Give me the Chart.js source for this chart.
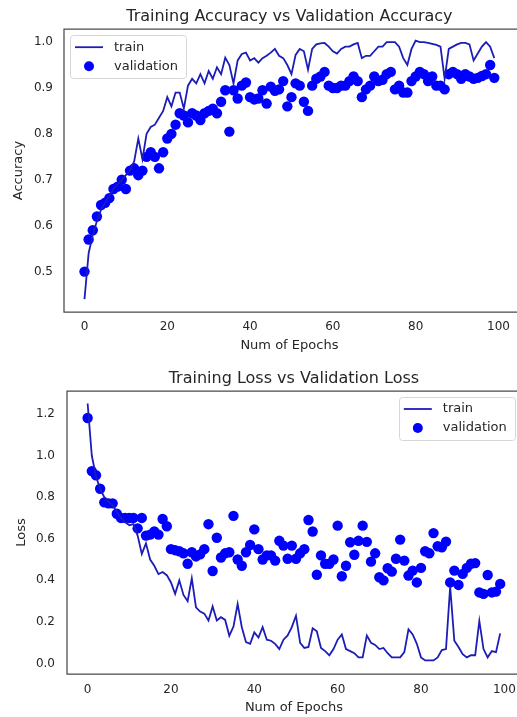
<!DOCTYPE html>
<html lang="en">
<head>
<meta charset="UTF-8">
<title>Training vs Validation</title>
<script src="https://cdn.jsdelivr.net/npm/chart.js"></script>
<style>
  html, body { margin: 0; padding: 0; background: #fff; overflow: hidden; }
  .panel { position: absolute; left: 0; width: 517px; overflow: hidden; }
  #accPanel { top: 0; height: 358px; }
  #lossPanel { top: 358px; height: 359px; }
  canvas { display: block; }
</style>
</head>
<body>
<div class="panel" id="accPanel"><canvas id="accChart" width="520" height="358"></canvas></div>
<div class="panel" id="lossPanel"><canvas id="lossChart" width="526" height="359"></canvas></div>

<script>
// epochs 0..99
const epochs = Array.from({ length: 100 }, (_, i) => i);
const epochTicks = [0, 20, 40, 60, 80, 100];
const accTicks = [0.5, 0.6, 0.7, 0.8, 0.9, 1.0];
const lossTicks = [0.0, 0.2, 0.4, 0.6, 0.8, 1.0, 1.2];

const trainAcc = [
  0.44, 0.54, 0.58, 0.61, 0.635, 0.65, 0.665, 0.68, 0.69, 0.70,
  0.71, 0.72, 0.74, 0.79, 0.745, 0.80, 0.815, 0.82, 0.835, 0.85,
  0.88, 0.86, 0.89, 0.89, 0.855, 0.905, 0.92, 0.91, 0.93, 0.91,
  0.937, 0.92, 0.945, 0.93, 0.966, 0.95, 0.91, 0.96, 0.974, 0.977,
  0.96, 0.965, 0.955, 0.965, 0.97, 0.977, 0.985, 0.97, 0.965, 0.95,
  0.93, 0.972, 0.985, 0.98, 0.94, 0.985, 0.995, 0.997, 0.998, 0.99,
  0.98, 0.975, 0.985, 0.99, 0.99, 0.995, 0.998, 0.965, 0.97, 0.97,
  0.98, 0.99, 0.99, 1.0, 1.0, 1.0, 0.99, 0.965, 0.95, 0.985,
  1.003, 1.0, 1.0, 0.998, 0.996, 0.994, 0.99, 0.92, 0.985, 0.99,
  0.995, 0.998, 0.998, 0.995, 0.96, 0.975, 0.99, 1.0, 0.99, 0.965
];
const valAcc = [
  0.50, 0.57, 0.59, 0.62, 0.645, 0.65, 0.66, 0.68, 0.685, 0.70,
  0.68, 0.72, 0.725, 0.71, 0.72, 0.75, 0.76, 0.75, 0.725, 0.76,
  0.79, 0.80, 0.82, 0.845, 0.84, 0.825, 0.845, 0.84, 0.83, 0.845,
  0.85, 0.855, 0.845, 0.87, 0.895, 0.805, 0.895, 0.877, 0.905, 0.912,
  0.88, 0.875, 0.877, 0.895, 0.866, 0.903, 0.894, 0.897, 0.915, 0.86,
  0.88, 0.91, 0.905, 0.87, 0.85, 0.905, 0.92, 0.925, 0.935, 0.905,
  0.90, 0.90, 0.905, 0.905, 0.915, 0.925, 0.915, 0.88, 0.897, 0.905,
  0.925, 0.915, 0.918, 0.93, 0.935, 0.897, 0.905, 0.89, 0.89, 0.915,
  0.925, 0.935, 0.93, 0.915, 0.925, 0.905, 0.905, 0.897, 0.93, 0.935,
  0.93, 0.92, 0.93, 0.925, 0.92, 0.922, 0.926, 0.93, 0.95, 0.922
];
const trainLoss = [
  1.25, 1.0, 0.90, 0.84, 0.80, 0.78, 0.76, 0.73, 0.70, 0.68,
  0.665, 0.67, 0.615, 0.527, 0.578, 0.50, 0.47, 0.43, 0.44, 0.425,
  0.39, 0.335, 0.40, 0.33, 0.30, 0.41, 0.27, 0.25, 0.24, 0.207,
  0.275, 0.207, 0.223, 0.21, 0.134, 0.178, 0.286, 0.175, 0.103, 0.095,
  0.15, 0.125, 0.175, 0.115, 0.11, 0.095, 0.07, 0.115, 0.135, 0.175,
  0.23, 0.10, 0.075, 0.08, 0.17, 0.155, 0.075, 0.06, 0.04, 0.07,
  0.115, 0.14, 0.07, 0.06, 0.05, 0.03, 0.03, 0.135, 0.10, 0.09,
  0.07, 0.075, 0.05, 0.03, 0.03, 0.03, 0.055, 0.165, 0.14, 0.095,
  0.03, 0.015, 0.015, 0.015, 0.03, 0.065, 0.07, 0.37, 0.11, 0.08,
  0.045, 0.03, 0.04, 0.04, 0.205, 0.07, 0.03, 0.06, 0.055, 0.145
];
const valLoss = [
  1.18, 0.925, 0.905, 0.84, 0.775, 0.77, 0.77, 0.72, 0.70, 0.70,
  0.70, 0.70, 0.65, 0.70, 0.615, 0.62, 0.635, 0.62, 0.695, 0.66,
  0.55, 0.545, 0.54, 0.53, 0.48, 0.535, 0.515, 0.525, 0.55, 0.67,
  0.445, 0.605, 0.51, 0.53, 0.535, 0.71, 0.50, 0.47, 0.535, 0.57,
  0.645, 0.55, 0.50, 0.52, 0.52, 0.495, 0.59, 0.567, 0.504, 0.567,
  0.504, 0.53, 0.55, 0.69, 0.635, 0.427, 0.52, 0.48, 0.48, 0.50,
  0.663, 0.42, 0.47, 0.583, 0.523, 0.59, 0.663, 0.585, 0.49, 0.53,
  0.415, 0.40, 0.458, 0.442, 0.504, 0.596, 0.495, 0.423, 0.447, 0.39,
  0.46, 0.54, 0.53, 0.627, 0.564, 0.559, 0.586, 0.39, 0.447, 0.378,
  0.431, 0.46, 0.48, 0.483, 0.342, 0.335, 0.426, 0.342, 0.346, 0.383
];

const FONT = 'DejaVu Sans';
const TEXT = '#262626';
const LINE_BLUE = '#1c1cb8';
const DOT_BLUE = '#0000ff';

// left, top and bottom spines; the right one is cropped off in the original
const frame = {
  id: 'frame',
  afterDatasetsDraw(chart) {
    const { ctx, chartArea: a } = chart;
    ctx.save();
    ctx.strokeStyle = '#4a4a4a';
    ctx.lineWidth = 1.25;
    ctx.beginPath();
    ctx.moveTo(chart.width, a.top);
    ctx.lineTo(a.left, a.top);
    ctx.lineTo(a.left, a.bottom);
    ctx.lineTo(chart.width, a.bottom);
    ctx.stroke();
    ctx.restore();
  }
};

// legend box drawn inside the plot area
const boxLegend = {
  id: 'boxLegend',
  afterDraw(chart, args, opts) {
    const { ctx, chartArea: a } = chart;
    const w = 116, h = 43, inset = 6;
    const x0 = opts.corner === 'right' ? a.right - inset - w : a.left + inset;
    const y0 = a.top + inset;
    ctx.save();
    ctx.fillStyle = 'rgba(255,255,255,0.8)';
    ctx.strokeStyle = '#d6d6d6';
    ctx.lineWidth = 1;
    ctx.beginPath();
    ctx.roundRect(Math.round(x0) + 0.5, Math.round(y0) + 0.5, w, h, 3);
    ctx.fill();
    ctx.stroke();
    ctx.font = '13px "' + FONT + '"';
    ctx.textBaseline = 'middle';
    chart.data.datasets.forEach((ds, i) => {
      const cy = y0 + 12 + i * 19;
      if (ds.showLine === false) {
        ctx.fillStyle = ds.pointBackgroundColor;
        ctx.beginPath();
        ctx.arc(x0 + 19, cy, 5, 0, Math.PI * 2);
        ctx.fill();
      } else {
        ctx.strokeStyle = ds.borderColor;
        ctx.lineWidth = ds.borderWidth;
        ctx.beginPath();
        ctx.moveTo(x0 + 5, cy);
        ctx.lineTo(x0 + 33, cy);
        ctx.stroke();
      }
      ctx.fillStyle = TEXT;
      ctx.fillText(ds.label, x0 + 44, cy);
    });
    ctx.restore();
  }
};

function pairs(arr) {
  return arr.map((v, i) => ({ x: epochs[i], y: v }));
}

function makeChart(id, cfg) {
  return new Chart(document.getElementById(id), {
    type: 'line',
    data: {
      datasets: [
        {
          label: 'train',
          data: pairs(cfg.train),
          borderColor: LINE_BLUE,
          borderWidth: 1.8,
          pointRadius: 0,
          tension: 0,
          fill: false
        },
        {
          label: 'validation',
          data: pairs(cfg.val),
          showLine: false,
          pointRadius: 5.2,
          pointBackgroundColor: DOT_BLUE,
          pointBorderWidth: 0,
          borderColor: DOT_BLUE
        }
      ]
    },
    options: {
      responsive: false,
      animation: false,
      layout: { padding: { left: 0, right: 2, top: 0, bottom: 0 } },
      plugins: {
        legend: { display: false },
        tooltip: { enabled: false },
        title: {
          display: true,
          text: cfg.title,
          fullSize: false,
          color: TEXT,
          font: { family: FONT, size: 16, weight: 'normal' },
          padding: cfg.titlePad
        },
        boxLegend: { corner: cfg.legendCorner }
      },
      scales: {
        x: {
          type: 'linear',
          min: -4.95,
          max: 103.95,
          grid: { display: false, drawTicks: false },
          border: { display: false },
          ticks: {
            color: TEXT,
            font: { family: FONT, size: 12 },
            padding: cfg.xTickPad,
            autoSkip: false,
            maxRotation: 0,
            includeBounds: false,
            callback: v => String(v)
          },
          afterBuildTicks: s => { s.ticks = epochTicks.map(v => ({ value: v })); },
          afterFit: s => { s.height = cfg.xHeight; },
          title: {
            display: true,
            text: 'Num of Epochs',
            color: TEXT,
            font: { family: FONT, size: 13 },
            padding: { top: 0, bottom: cfg.xTitlePad }
          }
        },
        y: {
          type: 'linear',
          min: cfg.yMin,
          max: cfg.yMax,
          grid: { display: false, drawTicks: false },
          border: { display: false },
          ticks: {
            color: TEXT,
            font: { family: FONT, size: 12 },
            padding: cfg.yTickPad,
            autoSkip: false,
            includeBounds: false,
            callback: v => v.toFixed(1)
          },
          afterBuildTicks: s => { s.ticks = cfg.yTicks.map(v => ({ value: v })); },
          afterFit: s => { s.width = cfg.yWidth; },
          title: {
            display: true,
            text: cfg.yLabel,
            color: TEXT,
            font: { family: FONT, size: 13 },
            padding: { top: cfg.yTitlePad, bottom: 0 }
          }
        }
      }
    },
    plugins: [frame, boxLegend]
  });
}

makeChart('accChart', {
  title: 'Training Accuracy vs Validation Accuracy',
  train: trainAcc,
  val: valAcc,
  yLabel: 'Accuracy',
  yTicks: accTicks,
  yMin: 0.412,
  yMax: 1.028,
  titlePad: { top: 7, bottom: 3 },
  xHeight: 46,
  xTickPad: 8,
  xTitlePad: 5,
  yWidth: 64,
  yTickPad: 11,
  yTitlePad: 11,
  legendCorner: 'left'
});

makeChart('lossChart', {
  title: 'Training Loss vs Validation Loss',
  train: trainLoss,
  val: valLoss,
  yLabel: 'Loss',
  yTicks: lossTicks,
  yMin: -0.05,
  yMax: 1.31,
  titlePad: { top: 11.4, bottom: 2.4 },
  xHeight: 43,
  xTickPad: 9,
  xTitlePad: 2,
  yWidth: 67,
  yTickPad: 12,
  yTitlePad: 14,
  legendCorner: 'right'
});
</script>
</body>
</html>
